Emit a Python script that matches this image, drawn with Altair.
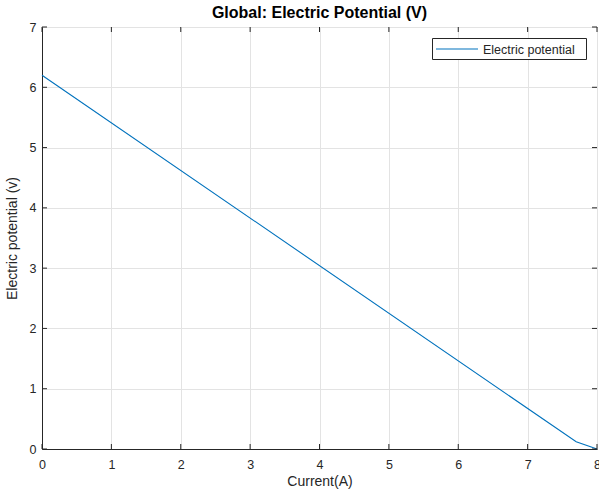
import altair as alt
import pandas as pd

current = [0, 7.7, 8]
potential = [6.2, 0.12, 0]
series_name = "Electric potential"
x_ticks = [0, 1, 2, 3, 4, 5, 6, 7, 8]
y_ticks = [0, 1, 2, 3, 4, 5, 6, 7]

df = pd.DataFrame({"Current": current, "Potential": potential})
xdf = pd.DataFrame({"t": x_ticks})
ydf = pd.DataFrame({"t": y_ticks})
ldf = pd.DataFrame({"label": [series_name]})

W, H = 555, 422
FONT = "Liberation Sans"
DARK = "#262626"
BLUE = "#0072BD"
xs = alt.Scale(domain=[0, 8], nice=False, zero=False)
ys = alt.Scale(domain=[0, 7], nice=False, zero=False)

line = alt.Chart(df).mark_line(strokeWidth=1.1, color=BLUE).encode(
    x=alt.X("Current:Q", scale=xs, axis=alt.Axis(
        title="Current(A)", values=x_ticks, format="d", ticks=False,
        labelFlush=False, labelOverlap=False,
        labelPadding=9, titlePadding=4, grid=True)),
    y=alt.Y("Potential:Q", scale=ys, axis=alt.Axis(
        title="Electric potential (v)", values=y_ticks, format="d", ticks=False,
        labelFlush=False, labelOverlap=False,
        labelPadding=6, titlePadding=10, grid=True)),
)

tick_style = dict(color=DARK, strokeWidth=1)
xb = alt.Chart(xdf).mark_rule(**tick_style).encode(
    x=alt.X("t:Q", scale=xs), y=alt.value(H), y2=alt.value(H - 5))
xt = alt.Chart(xdf).mark_rule(**tick_style).encode(
    x=alt.X("t:Q", scale=xs), y=alt.value(0), y2=alt.value(5))
yl = alt.Chart(ydf).mark_rule(**tick_style).encode(
    y=alt.Y("t:Q", scale=ys), x=alt.value(0), x2=alt.value(5))
yr = alt.Chart(ydf).mark_rule(**tick_style).encode(
    y=alt.Y("t:Q", scale=ys), x=alt.value(W - 5), x2=alt.value(W))

# legend
lbox = alt.Chart(ldf).mark_rect(fill="white", stroke=DARK, strokeWidth=1).encode(
    x=alt.value(390.5), x2=alt.value(544.5), y=alt.value(11.5), y2=alt.value(32.5))
lline = alt.Chart(ldf).mark_rule(color=BLUE, strokeWidth=1.1).encode(
    x=alt.value(394), x2=alt.value(436), y=alt.value(22), y2=alt.value(22))
ltext = alt.Chart(ldf).mark_text(align="left", baseline="middle", font=FONT,
                                 fontSize=12.5, color=DARK).encode(
    x=alt.value(441), y=alt.value(22.5), text="label:N")

chart = alt.layer(line, xb, xt, yl, yr, lbox, lline, ltext).properties(
    width=W, height=H,
    title=alt.Title("Global: Electric Potential (V)", font=FONT, fontSize=16,
                    fontWeight="bold", color="black", offset=0),
    autosize=alt.AutoSizeParams(type="none"),
    padding={"left": 42, "top": 27, "right": 2, "bottom": 43},
    background="white",
).configure_view(stroke=DARK, strokeWidth=1).configure_axis(
    domainColor=DARK, domainWidth=1, gridColor="#e3e3e3", gridWidth=1,
    labelFont=FONT, labelFontSize=12.5, labelColor=DARK,
    titleFont=FONT, titleFontSize=14, titleColor=DARK, titleFontWeight="normal",
)

chart.save("out.html", embed_options={"renderer": "svg", "actions": False})
